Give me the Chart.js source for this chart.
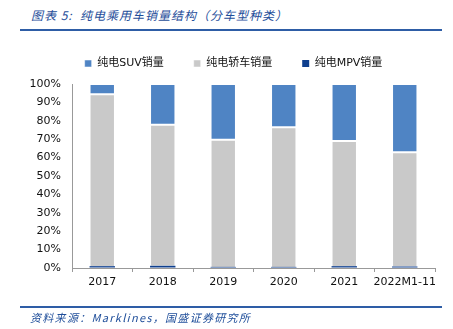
<!DOCTYPE html>
<html>
<head>
<meta charset="utf-8">
<script src="https://cdn.jsdelivr.net/npm/chart.js@4.4.0/dist/chart.umd.min.js"></script>
<style>
  html, body { margin: 0; padding: 0; background: #fff; }
  #wrap { position: relative; width: 453px; height: 329px; overflow: hidden; }
  #salesChart { position: absolute; left: 0; top: 0; }
  .title {
    position: absolute; left: 31px; top: 6px;
    font: italic 12px "Noto Sans CJK SC", sans-serif; color: #1F4E9A;
    letter-spacing: 1px; white-space: nowrap;
  }
  .rule { position: absolute; left: 20px; width: 422px; background: #2E5DA6; }
  .source {
    position: absolute; left: 30px; top: 309px;
    font: italic 11px "Noto Sans CJK SC", sans-serif; color: #1F4E9A;
    letter-spacing: 1.3px; white-space: nowrap;
  }
</style>
</head>
<body>
<div id="wrap">
  <div class="title">图表 5:&nbsp; 纯电乘用车销量结构（分车型种类）</div>
  <div class="rule" style="top:29px;height:2px;"></div>
  <canvas id="salesChart" width="453" height="329"></canvas>
  <div class="rule" style="top:306px;height:1.5px;"></div>
  <div class="source">资料来源：Marklines，国盛证券研究所</div>
</div>
<script>
  // 纯电乘用车销量结构（%），自下而上：MPV、轿车、SUV
  const years = ['2017', '2018', '2019', '2020', '2021', '2022M1-11'];
  const mpvShare = [1.0, 1.2, 0.6, 0.6, 1.0, 0.8];
  const sedanShare = [93.4, 76.7, 69.1, 75.9, 68.0, 62.1];
  const suvShare = [5.6, 22.1, 30.3, 23.5, 31.0, 37.1];
  const yTicks = [0, 10, 20, 30, 40, 50, 60, 70, 80, 90, 100];

  const tickFont = { family: 'DejaVu Sans, Verdana, sans-serif', size: 11 };

  // 图例整体右移、上移一点
  const legendShift = {
    id: 'legendShift',
    afterLayout(chart) {
      const lg = chart.legend;
      lg.left += 16; lg.right += 16;
      lg.top -= 5; lg.bottom -= 5;
    }
  };

  const ctx = document.getElementById('salesChart');
  const salesChart = new Chart(ctx.getContext('2d'), {
    type: 'bar',
    data: {
      labels: years,
      datasets: [
        { label: '纯电MPV销量', data: mpvShare, backgroundColor: '#0E3F8E', borderWidth: 0 },
        { label: '纯电轿车销量', data: sedanShare, backgroundColor: '#C9C9C9', borderWidth: 1, borderSkipped: 'bottom' },
        { label: '纯电SUV销量', data: suvShare, backgroundColor: '#4F84C4', borderWidth: 1, borderSkipped: false }
      ].map(ds => Object.assign(ds, {
        stack: 's',
        barPercentage: 0.42,
        categoryPercentage: 1,
        borderColor: 'rgba(255,255,255,0.5)'
      }))
    },
    options: {
      responsive: false,
      animation: false,
      layout: { padding: { left: 0, right: 18, top: 33, bottom: 0 } },
      plugins: {
        legend: {
          position: 'top',
          reverse: true,
          labels: {
            boxWidth: 7,
            boxHeight: 7,
            padding: 30,
            color: '#111',
            font: { family: 'DejaVu Sans, "Noto Sans CJK SC", sans-serif', size: 11 }
          }
        },
        tooltip: { enabled: false }
      },
      scales: {
        x: {
          stacked: true,
          grid: { display: true, drawOnChartArea: false, drawTicks: true, tickLength: 4, color: '#999', offset: true },
          border: { color: '#999' },
          ticks: { color: '#111', font: tickFont, padding: 4, maxRotation: 0, autoSkip: false },
          afterFit: scale => { scale.height = 61; }
        },
        y: {
          stacked: true,
          min: 0,
          max: 100,
          afterBuildTicks: scale => { scale.ticks = yTicks.map(v => ({ value: v })); },
          grid: { drawOnChartArea: false, drawTicks: false },
          border: { color: '#999' },
          ticks: { color: '#111', font: tickFont, padding: 11, callback: v => v + '%' },
          afterFit: scale => { scale.width = 72; }
        }
      }
    },
    plugins: [legendShift]
  });
</script>
</body>
</html>
